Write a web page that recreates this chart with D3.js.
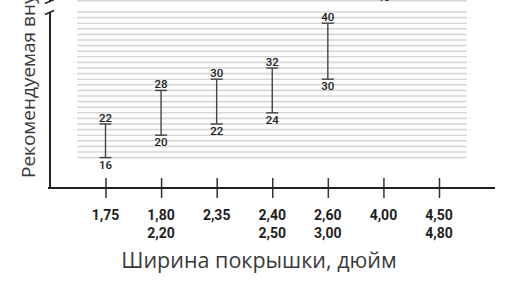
<!DOCTYPE html>
<html>
<head>
<meta charset="utf-8">
<script src="https://cdn.jsdelivr.net/npm/d3@7"></script>
<style>
  body { margin: 0; background: #fff; }
  svg { display: block; }
</style>
</head>
<body>
<svg id="chart" width="516" height="289"></svg>
<script>
// tyre widths (two-line labels) and pressure ranges
const widths = ["1,75", "1,80|2,20", "2,35", "2,40|2,50", "2,60|3,00", "4,00", "4,50|4,80"];
const lowVals = [16, 20, 22, 24, 30, 46, 52];
const highVals = [22, 28, 30, 32, 40, 54, 60];
const gridVals = d3.range(16, 43).concat([44, 45]);

const width = 516, height = 289;
const svg = d3.select("#chart");

let xScale = d3.scalePoint().domain(widths).range([105.5, 439]);
let yScale = d3.scaleLinear().domain([16, 40]).range([157.6, 23.2]);

const data = widths.map((w, i) => ({ w: w, lo: lowVals[i], hi: highVals[i] }));

// grid
svg.append("g")
    .selectAll("line")
    .data(gridVals)
    .join("line")
    .attr("x1", 77).attr("x2", 467)
    .attr("y1", d => yScale(d)).attr("y2", d => yScale(d))
    .attr("stroke", "#d6d6d6")
    .attr("stroke-width", 1.6);

// y axis line with break
svg.append("line")
    .attr("x1", 50).attr("x2", 50)
    .attr("y1", 188).attr("y2", 12)
    .attr("stroke", "#222").attr("stroke-width", 2);
svg.append("line")
    .attr("x1", 50).attr("x2", 50)
    .attr("y1", 1).attr("y2", -2)
    .attr("stroke", "#222").attr("stroke-width", 2);
[12.5, 1.5].forEach(y => {
    svg.append("line")
        .attr("x1", 45).attr("x2", 54)
        .attr("y1", y + 2).attr("y2", y - 2)
        .attr("stroke", "#222").attr("stroke-width", 1.5);
});

// x axis
const xAxis = svg.append("g")
    .attr("transform", "translate(0,188)")
    .call(d3.axisBottom(xScale).tickSize(10).tickFormat(""));
xAxis.select(".domain").remove();
xAxis.selectAll(".tick line")
    .attr("y1", -10).attr("y2", 10)
    .attr("stroke", "#333").attr("stroke-width", 1.5);
svg.append("line")
    .attr("x1", 48).attr("x2", 495)
    .attr("y1", 188).attr("y2", 188)
    .attr("stroke", "#222").attr("stroke-width", 2.2);

// tick labels (two lines)
const tl = svg.append("g")
    .selectAll("text")
    .data(widths)
    .join("text")
    .attr("x", d => xScale(d))
    .attr("text-anchor", "middle")
    .attr("font-family", "Roboto, sans-serif")
    .attr("font-weight", 700)
    .attr("font-size", 14)
    .attr("fill", "#1e1e1e");
tl.selectAll("tspan")
    .data(d => d.split("|").map((t, i) => ({ t: t, i: i, w: d })))
    .join("tspan")
    .attr("x", d => xScale(d.w))
    .attr("y", d => 219.5 + d.i * 18.5)
    .text(d => d.t);

// range bars
const bars = svg.append("g")
    .selectAll("g")
    .data(data)
    .join("g");

bars.append("line")
    .attr("x1", d => xScale(d.w)).attr("x2", d => xScale(d.w))
    .attr("y1", d => yScale(d.lo)).attr("y2", d => yScale(d.hi))
    .attr("stroke", "#444").attr("stroke-width", 1.4);
bars.selectAll(".cap")
    .data(d => [{ w: d.w, v: d.lo }, { w: d.w, v: d.hi }])
    .join("line")
    .attr("class", "cap")
    .attr("x1", d => xScale(d.w) - 6).attr("x2", d => xScale(d.w) + 6)
    .attr("y1", d => yScale(d.v)).attr("y2", d => yScale(d.v))
    .attr("stroke", "#444").attr("stroke-width", 1.4);

bars.append("text")
    .attr("x", d => xScale(d.w))
    .attr("y", d => yScale(d.hi) - 2)
    .attr("text-anchor", "middle")
    .attr("font-family", "Roboto, sans-serif")
    .attr("font-weight", 500)
    .attr("font-size", 11.5)
    .attr("fill", "#222")
    .text(d => d.hi);
bars.append("text")
    .attr("x", d => xScale(d.w))
    .attr("y", d => yScale(d.lo) + 11)
    .attr("text-anchor", "middle")
    .attr("font-family", "Roboto, sans-serif")
    .attr("font-weight", 500)
    .attr("font-size", 11.5)
    .attr("fill", "#222")
    .text(d => d.lo);

// axis titles
svg.append("text")
    .attr("x", 259).attr("y", 268)
    .attr("text-anchor", "middle")
    .attr("font-family", "'Open Sans', sans-serif")
    .attr("font-size", 21.5)
    .attr("fill", "#3a3a3a")
    .text("Ширина покрышки, дюйм");

svg.append("text")
    .attr("transform", "translate(35,178) rotate(-90)")
    .attr("text-anchor", "start")
    .attr("font-family", "'Open Sans', sans-serif")
    .attr("font-size", 19)
    .attr("fill", "#3a3a3a")
    .text("Рекомендуемая внутреннее давление, psi");
</script>
</body>
</html>
